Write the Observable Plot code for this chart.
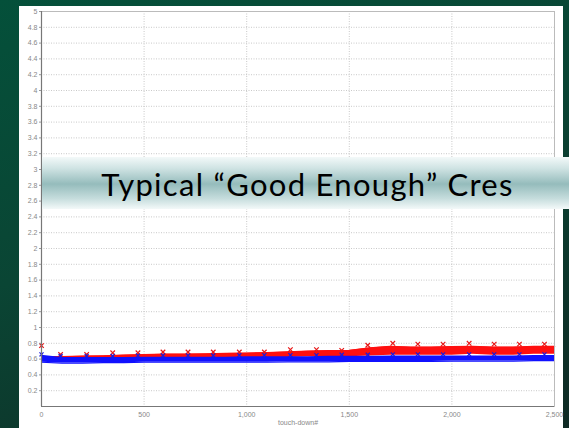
<!DOCTYPE html>
<html>
<head>
<meta charset="utf-8">
<script src="https://cdn.jsdelivr.net/npm/d3@7"></script>
<script src="https://cdn.jsdelivr.net/npm/@observablehq/plot@0.6"></script>
<style>
  html, body { margin:0; padding:0; }
  body { width:569px; height:428px; overflow:hidden; position:relative;
    background: linear-gradient(160deg, #04503a 0%, #0a4534 45%, #0f2a24 100%); }
  #panel { position:absolute; left:19px; top:6px; width:544px; height:422px; background:#fff; }
  #chart { position:absolute; left:0; top:0; }
  #banner { position:absolute; left:42px; top:157px; width:527px; height:52px;
    background: linear-gradient(to bottom, #f3f9f9 0%, #cfe3e3 22%, #95bcbc 52%, #c6dddd 80%, #f3f9f9 100%);
    display:flex; align-items:center; justify-content:center;
    font-family: Lato, "Open Sans", sans-serif; font-size:31px; letter-spacing:1.3px; color:#000; }
  #banner span { position:relative; left:2px; top:1px; }
</style>
</head>
<body>
<div id="panel"></div>
<div id="chart"></div>
<div id="banner"><span>Typical “Good Enough” Cres</span></div>
<script>
// touch-down index (every 100)
const touchdown = [0,100,200,300,400,500,600,700,800,900,1000,1100,1200,1300,1400,1500,1600,1700,1800,1900,2000,2100,2200,2300,2400,2500];
// red series envelope
const redLo = [0.58,0.58,0.58,0.59,0.59,0.60,0.60,0.60,0.61,0.61,0.61,0.62,0.62,0.63,0.63,0.63,0.64,0.65,0.65,0.65,0.65,0.66,0.65,0.65,0.66,0.66];
const redHi = [0.63,0.63,0.635,0.64,0.65,0.655,0.66,0.66,0.665,0.67,0.675,0.68,0.69,0.70,0.705,0.71,0.74,0.76,0.75,0.75,0.755,0.76,0.75,0.75,0.76,0.76];
// blue series envelope
const blueLo = [0.56,0.55,0.55,0.555,0.555,0.56,0.56,0.56,0.56,0.56,0.56,0.56,0.565,0.565,0.565,0.57,0.57,0.57,0.57,0.57,0.575,0.575,0.575,0.575,0.58,0.58];
const blueHi = [0.65,0.62,0.62,0.62,0.62,0.625,0.625,0.625,0.625,0.625,0.63,0.63,0.63,0.63,0.635,0.635,0.635,0.64,0.64,0.64,0.64,0.64,0.64,0.64,0.645,0.645];
// periodic marker positions and values
const markX = [0,93,220,347,470,592,714,837,964,1086,1213,1340,1463,1590,1712,1834,1957,2084,2206,2329,2451];
const markRed = [0.77,0.66,0.66,0.68,0.68,0.69,0.69,0.69,0.69,0.69,0.72,0.72,0.71,0.775,0.80,0.79,0.79,0.80,0.79,0.79,0.79];
const markBlue = [0.66,0.64,0.64,0.64,0.645,0.645,0.645,0.645,0.65,0.65,0.65,0.65,0.655,0.655,0.66,0.66,0.66,0.66,0.66,0.66,0.66];
// ticks
const yTicks = [0.2,0.4,0.6,0.8,1,1.2,1.4,1.6,1.8,2,2.2,2.4,2.6,2.8,3,3.2,3.4,3.6,3.8,4,4.2,4.4,4.6,4.8,5];
const xTicks = [0,500,1000,1500,2000,2500];
const xGrid = [500,1000,1500,2000];
const xLabel = "touch-down#";

const bands = touchdown.map((t,i) => ({t, redLo:redLo[i], redHi:redHi[i], blueLo:blueLo[i], blueHi:blueHi[i]}));
const marks = markX.map((x,i) => ({x, red:markRed[i], blue:markBlue[i]}));

const chart = Plot.plot({
  width: 569, height: 428,
  marginLeft: 41, marginRight: 15, marginTop: 11, marginBottom: 22,
  x: {domain: [0, 2500]},
  y: {domain: [0, 5]},
  style: {background: "transparent", fontFamily: "'Liberation Sans', Arial, sans-serif", fontSize: "7px", color: "#888"},
  marks: [
    Plot.gridY(yTicks, {stroke: "#bbb", strokeOpacity: 0.8, strokeDasharray: "1,1.5"}),
    Plot.gridX(xGrid, {stroke: "#bbb", strokeOpacity: 0.8, strokeDasharray: "1,1.5"}),
    Plot.areaY(bands, {x: "t", y1: "redLo", y2: "redHi", fill: "#ff1010"}),
    Plot.lineY(bands, {x: "t", y: "redHi", stroke: "#ff1010", strokeWidth: 1.5}),
    Plot.dot(marks, {x: "x", y: "red", symbol: "times", r: 2.2, stroke: "#e81818", strokeWidth: 1.2}),
    Plot.areaY(bands, {x: "t", y1: "blueLo", y2: "blueHi", fill: "#1010ff"}),
    Plot.lineY(bands, {x: "t", y: "blueLo", stroke: "#1010ff", strokeWidth: 1.2}),
    Plot.dot(marks, {x: "x", y: "blue", symbol: "times", r: 2, stroke: "#1a1ae0", strokeWidth: 1.2}),
    Plot.axisY({ticks: yTicks, tickSize: 2, tickPadding: 2, label: null, stroke: "#999", tickFormat: d => String(d)}),
    Plot.axisX({ticks: xTicks, tickSize: 0, tickPadding: 6, label: null, tickFormat: d3.format(",")}),
    Plot.text([xLabel], {frameAnchor: "bottom", dy: 18, fill: "#888", fontSize: 7}),
    Plot.frame({stroke: "#bbb"}),
    Plot.ruleX([0], {stroke: "#777", strokeWidth: 1.2}),
    Plot.ruleY([0], {stroke: "#777", strokeWidth: 1.2})
  ]
});
document.getElementById("chart").appendChild(chart);
</script>
</body>
</html>
